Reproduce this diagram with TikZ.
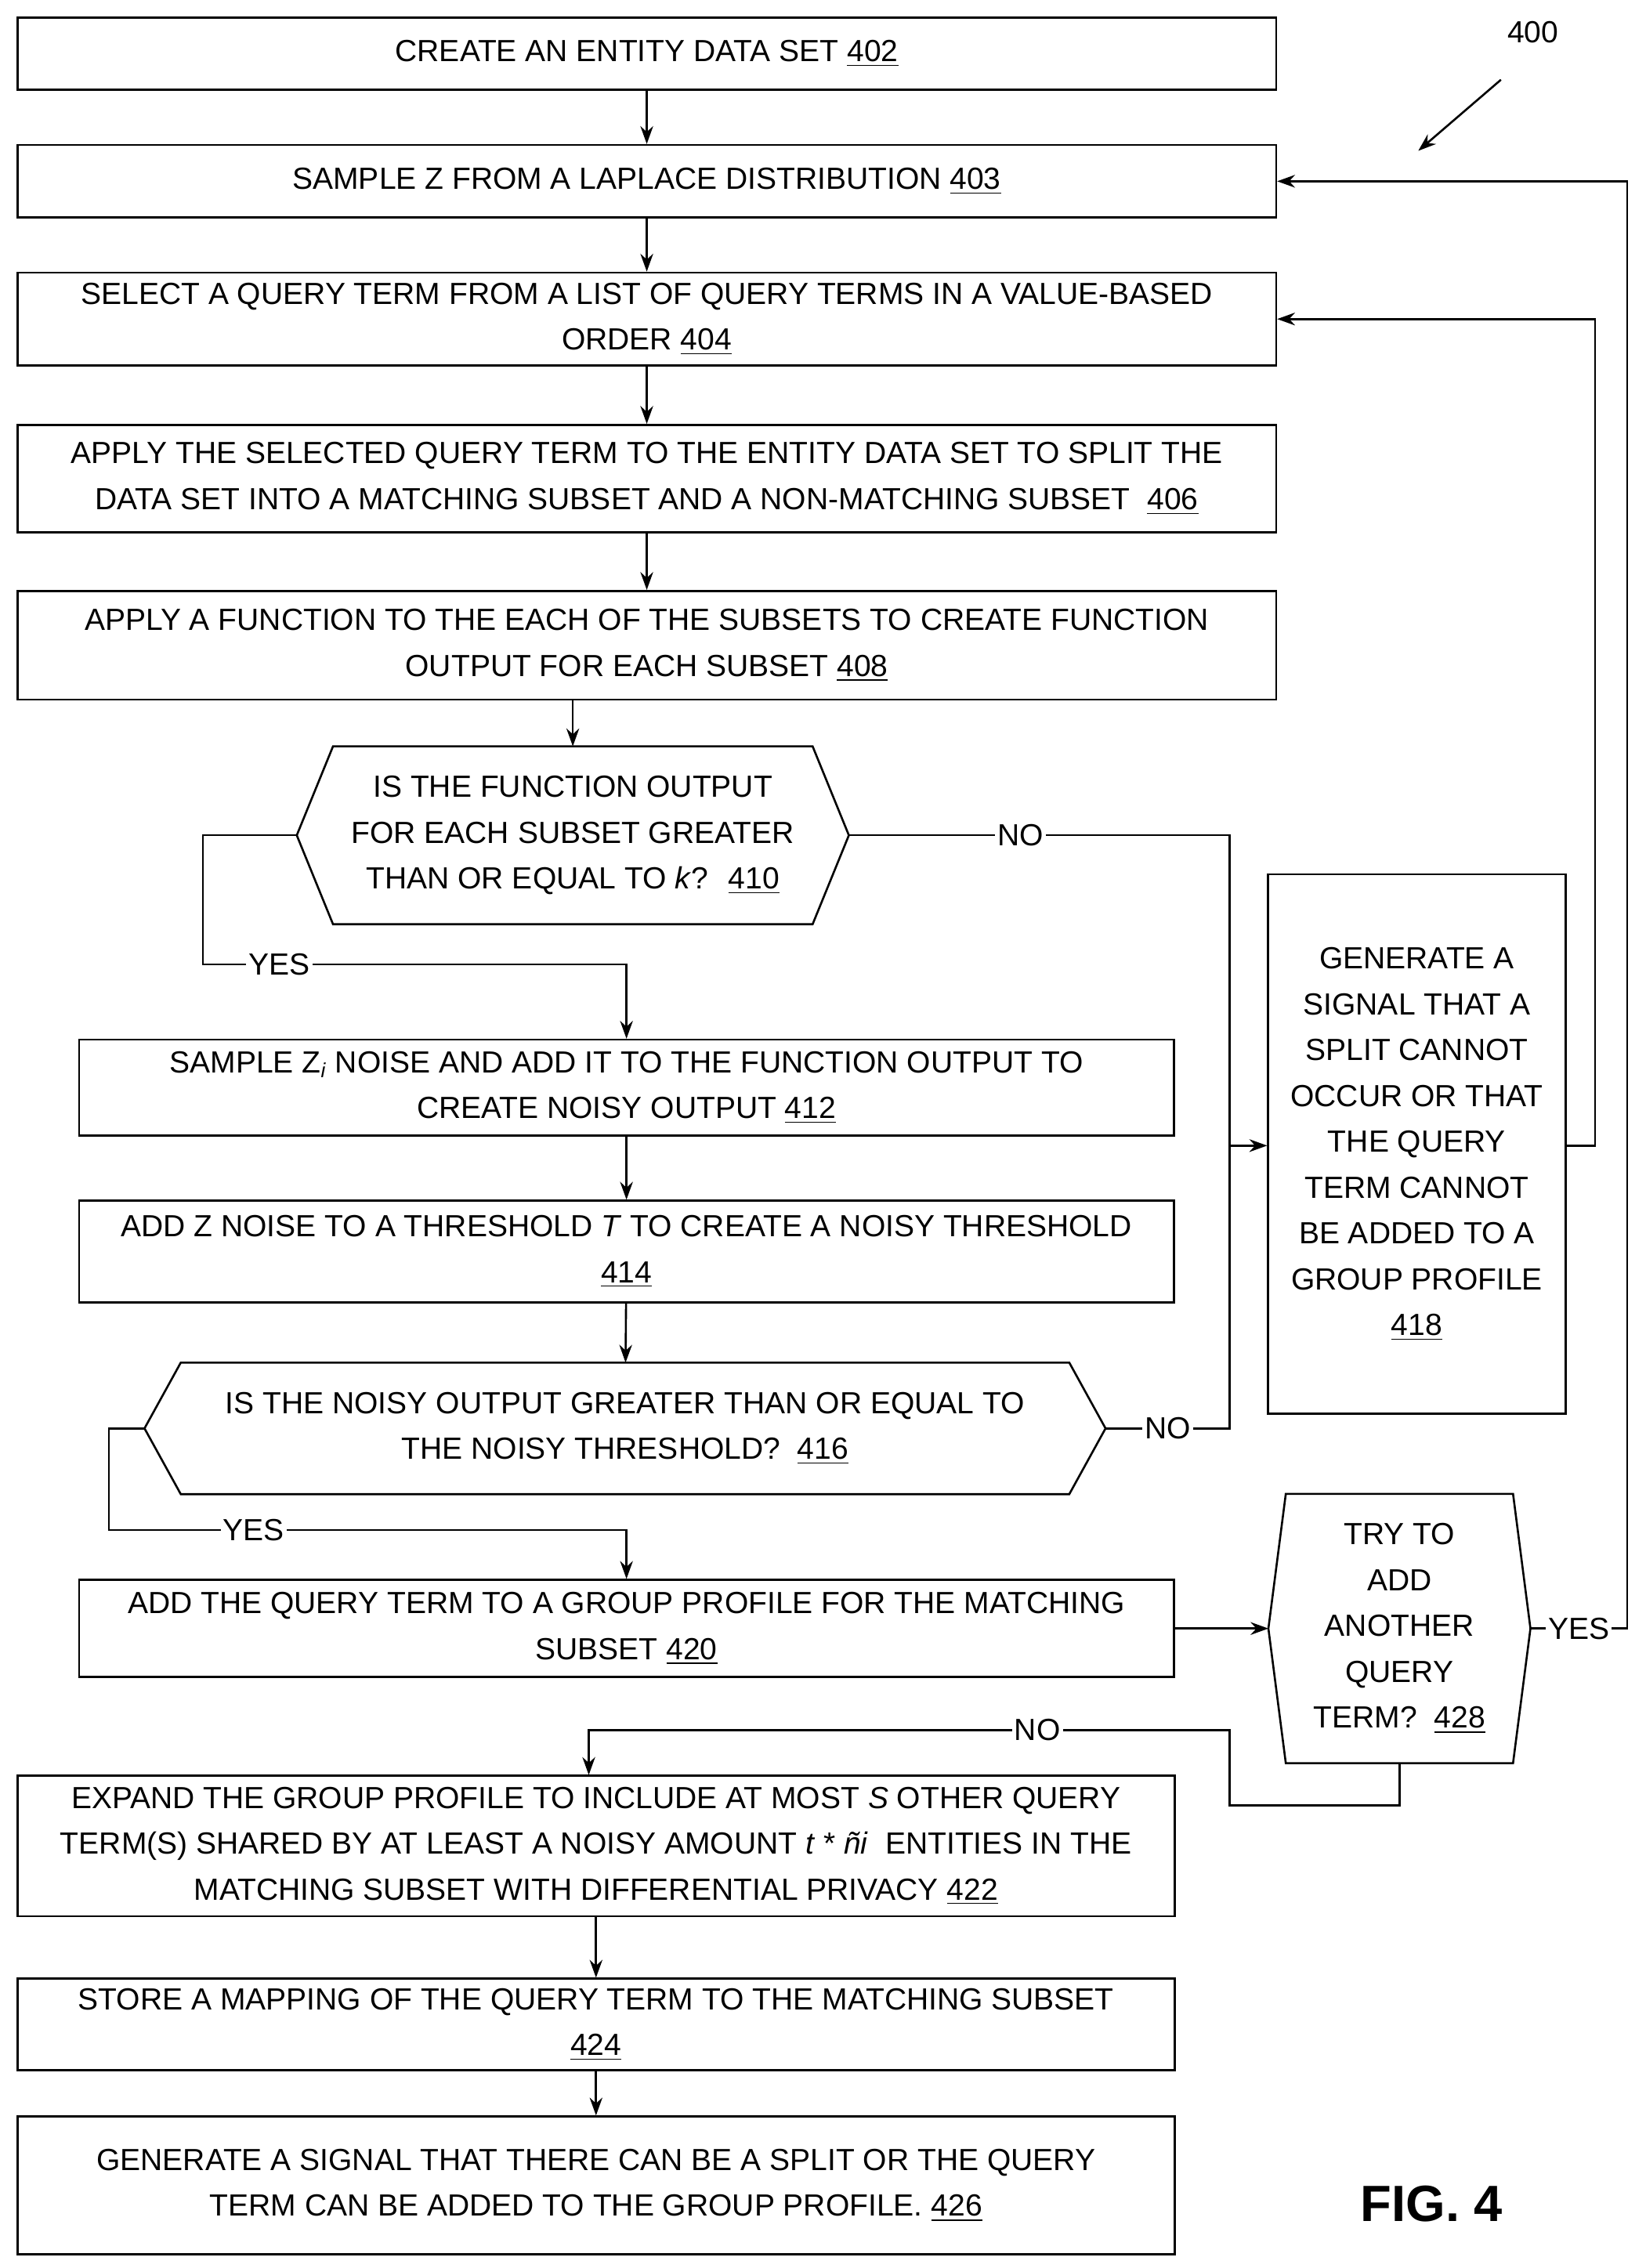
\documentclass[tikz,border=0pt]{standalone}
\usepackage{fontspec}
\setmainfont{Liberation Sans}
\usetikzlibrary{positioning, calc, arrows.meta}
\tikzset{x=0.02cm, y=-0.02cm,
         >={Stealth[length=7pt,width=5pt]},
         every node/.style={font=\fontsize{12}{18}\selectfont, inner sep=0pt},
         box/.style={draw, thick, align=center},
         test/.style={align=center},
         flow/.style={thick, ->},
         lbl/.style={fill=white, inner sep=1pt},
         }
\newcommand{\hexa}[2]{\draw[thick] ($(#1.west)$) -- ($(#1.north west)+(#2,0)$) -- ($(#1.north east)+(-#2,0)$) -- (#1.east) -- ($(#1.south east)+(-#2,0)$) -- ($(#1.south west)+(#2,0)$) -- cycle;}
\begin{document}
\begin{tikzpicture}
    \useasboundingbox (0,0) rectangle (1135,1564);
    % boxes
    \node[box, minimum width=868*0.02cm, minimum height=50*0.02cm] (s402) at (446,37) {CREATE AN ENTITY DATA SET \underline{402}};
    \node[box, minimum width=868*0.02cm, minimum height=50*0.02cm] (s403) at (446,125) {SAMPLE Z FROM A LAPLACE DISTRIBUTION \underline{403}};
    \node[box, minimum width=868*0.02cm, minimum height=64*0.02cm] (s404) at (446,220) {SELECT A QUERY TERM FROM A LIST OF QUERY TERMS IN A VALUE-BASED\\ORDER \underline{404}};
    \node[box, minimum width=868*0.02cm, minimum height=74*0.02cm] (s406) at (446,330) {APPLY THE SELECTED QUERY TERM TO THE ENTITY DATA SET TO SPLIT THE\\DATA SET INTO A MATCHING SUBSET AND A NON-MATCHING SUBSET \ \underline{406}};
    \node[box, minimum width=868*0.02cm, minimum height=75*0.02cm] (s408) at (446,445) {APPLY A FUNCTION TO THE EACH OF THE SUBSETS TO CREATE FUNCTION\\OUTPUT FOR EACH SUBSET \underline{408}};
    \node[test, minimum width=380*0.02cm, minimum height=122*0.02cm] (d410) at (395,576) {IS THE FUNCTION OUTPUT\\FOR EACH SUBSET GREATER\\THAN OR EQUAL TO \textit{k}? \ \underline{410}};
    \hexa{d410}{25}
    \node[box, minimum width=755*0.02cm, minimum height=66*0.02cm] (s412) at (432,750) {SAMPLE Z\textsubscript{\itshape i} NOISE AND ADD IT TO THE FUNCTION OUTPUT TO\\CREATE NOISY OUTPUT \underline{412}};
    \node[box, minimum width=755*0.02cm, minimum height=70*0.02cm] (s414) at (432,863) {ADD Z NOISE TO A THRESHOLD \textit{T} TO CREATE A NOISY THRESHOLD\\\underline{414}};
    \node[test, minimum width=662*0.02cm, minimum height=90*0.02cm] (d416) at (431,985) {IS THE NOISY OUTPUT GREATER THAN OR EQUAL TO\\THE NOISY THRESHOLD? \ \underline{416}};
    \hexa{d416}{25}
    \node[box, minimum width=755*0.02cm, minimum height=67*0.02cm] (s420) at (432,1123) {ADD THE QUERY TERM TO A GROUP PROFILE FOR THE MATCHING\\SUBSET \underline{420}};
    \node[box, minimum width=205*0.02cm, minimum height=372*0.02cm] (s418) at (977,789) {GENERATE A\\SIGNAL THAT A\\SPLIT CANNOT\\OCCUR OR THAT\\THE QUERY\\TERM CANNOT\\BE ADDED TO A\\GROUP PROFILE\\\underline{418}};
    \node[test, minimum width=180*0.02cm, minimum height=185*0.02cm] (d428) at (965,1123) {TRY TO\\ADD\\ANOTHER\\QUERY\\TERM? \ \underline{428}};
    \hexa{d428}{12}
    \node[box, minimum width=798*0.02cm, minimum height=97*0.02cm] (s422) at (411,1273) {EXPAND THE GROUP PROFILE TO INCLUDE AT MOST \textit{S} OTHER QUERY\\TERM(S) SHARED BY AT LEAST A NOISY AMOUNT \textit{t} * \textit{ñi} \ ENTITIES IN THE\\MATCHING SUBSET WITH DIFFERENTIAL PRIVACY \underline{422}};
    \node[box, minimum width=798*0.02cm, minimum height=63*0.02cm] (s424) at (411,1396) {STORE A MAPPING OF THE QUERY TERM TO THE MATCHING SUBSET\\\underline{424}};
    \node[box, minimum width=798*0.02cm, minimum height=95*0.02cm] (s426) at (411,1507) {GENERATE A SIGNAL THAT THERE CAN BE A SPLIT OR THE QUERY\\TERM CAN BE ADDED TO THE GROUP PROFILE. \underline{426}};
    \node (fig) at (987,1520) {\fontsize{20}{24}\selectfont\bfseries FIG. 4};
    \node (n400) at (1057,22) {400};
    \coordinate (a400) at (1035,55);
    \draw[flow] (a400) -- (978,104);
    % connectors
    \draw[flow] (s402) -- (s403);
    \draw[flow] (s403) -- (s404);
    \draw[flow] (s404) -- (s406);
    \draw[flow] (s406) -- (s408);
    \draw[flow] (s408.south -| d410) -- (d410);
    \draw[flow] (d410.west) -- (140,576) -- (140,665) -- node[lbl, pos=0.18]{YES} (432,665) -- (s412);
    \draw[flow] (d410.east) -- node[lbl, pos=0.45]{NO} (848,576) -- (848,790) -- (s418.west |- 0,790);
    \draw[thick] (d416.east) -- node[lbl]{NO} (848,985) -- (848,790);
    \draw[flow] (s412) -- (s414);
    \draw[flow] (s414) -- (d416);
    \draw[flow] (d416.west) -- (75,985) -- (75,1055) -- node[lbl, pos=0.28]{YES} (432,1055) -- (s420);
    \draw[flow] (s420) -- (d428);
    \draw[flow] (d428.east) -- node[lbl]{YES} (1122,1123) -- (1122,125) -- (s403);
    \draw[flow] (s418.east |- 0,790) -- (1100,790) -- (1100,220) -- (s404);
    \draw[flow] (d428.south) -- (965,1245) -- (848,1245) -- (848,1193) -- node[lbl, pos=0.3]{NO} (406,1193) -- (406,1224);
    \draw[flow] (s422) -- (s424);
    \draw[flow] (s424) -- (s426);
\end{tikzpicture}
\end{document}
